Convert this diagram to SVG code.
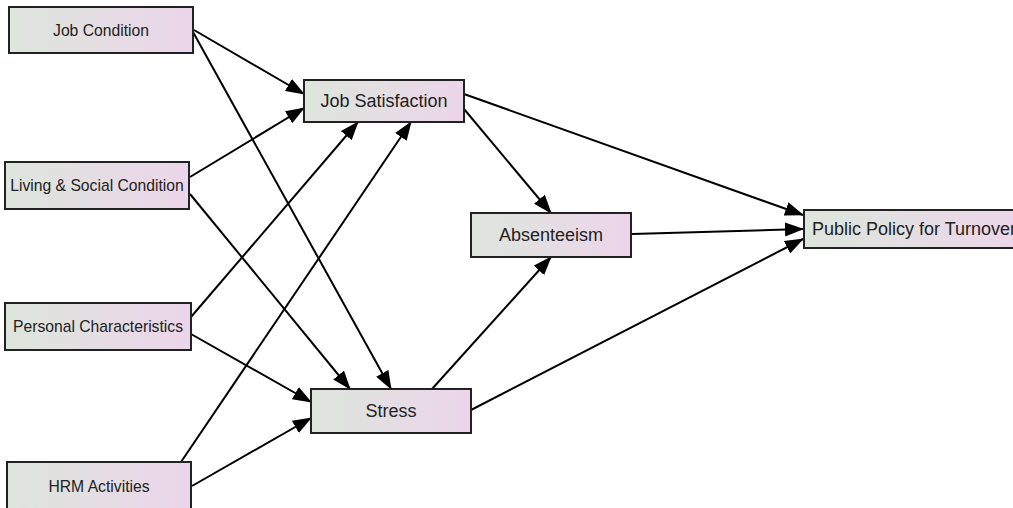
<svg xmlns="http://www.w3.org/2000/svg" width="1013" height="508" viewBox="0 0 1013 508">
<defs>
<linearGradient id="g" x1="0" y1="0" x2="1" y2="0">
<stop offset="0" stop-color="#dde6dc"/>
<stop offset="1" stop-color="#ecd5ea"/>
</linearGradient>
<marker id="a" viewBox="0 0 19 14" refX="18" refY="7" markerWidth="19" markerHeight="14" markerUnits="userSpaceOnUse" orient="auto">
<path d="M0,0 L19,7 L0,14 z" fill="#000"/>
</marker>
<style>
.n rect{fill:url(#g);stroke:#222;stroke-width:2}
.n text{font-family:"Liberation Sans",Arial,sans-serif;fill:#222;text-anchor:middle}
.s text{font-size:15.7px}
.b text{font-size:18px}
#edges line{stroke:#000;stroke-width:2;marker-end:url(#a)}
</style>
</defs>
<rect width="1013" height="508" fill="#fff"/>
<g id="edges">
<line x1="194" y1="30" x2="304" y2="94"/>
<line x1="193" y1="32" x2="391" y2="389"/>
<line x1="190" y1="177" x2="304" y2="108"/>
<line x1="190" y1="194" x2="350" y2="389"/>
<line x1="191" y1="317" x2="358" y2="122"/>
<line x1="191" y1="334" x2="311" y2="402"/>
<line x1="181" y1="462" x2="411" y2="122"/>
<line x1="192" y1="486" x2="311" y2="418"/>
<line x1="464" y1="94" x2="803" y2="215"/>
<line x1="464" y1="109" x2="551" y2="213"/>
<line x1="632" y1="234" x2="803" y2="229"/>
<line x1="432" y1="389" x2="551" y2="257"/>
<line x1="471" y1="410" x2="803" y2="239"/>
</g>
<g id="job-condition" class="n s"><rect x="9" y="7" width="184" height="46"/><text x="101" y="35.5">Job Condition</text></g>
<g id="living-social" class="n s"><rect x="5" y="162" width="184" height="47"/><text x="97" y="191">Living &amp; Social Condition</text></g>
<g id="personal" class="n s"><rect x="5" y="303" width="186" height="47"/><text x="98" y="332">Personal Characteristics</text></g>
<g id="hrm" class="n s"><rect x="7" y="462" width="184" height="48"/><text x="99" y="492">HRM Activities</text></g>
<g id="job-satisfaction" class="n b"><rect x="304" y="80" width="160" height="42"/><text x="384" y="107">Job Satisfaction</text></g>
<g id="stress" class="n b"><rect x="311" y="389" width="160" height="44"/><text x="391" y="417">Stress</text></g>
<g id="absenteeism" class="n b"><rect x="471" y="213" width="160" height="44"/><text x="551" y="241">Absenteeism</text></g>
<g id="public-policy" class="n b"><rect x="804" y="210" width="230" height="38"/><text x="812" y="235" style="text-anchor:start">Public Policy for Turnover</text></g>
</svg>
